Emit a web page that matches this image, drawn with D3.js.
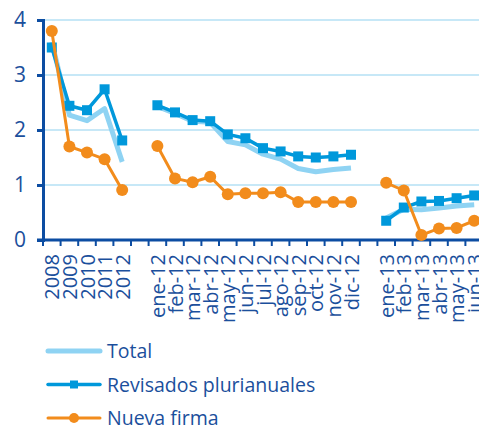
<!DOCTYPE html>
<html lang="es">
<head>
<meta charset="UTF-8">
<title>Chart</title>
<script src="https://d3js.org/d3.v7.min.js"></script>
<style>
  body { margin: 0; background: #fff; }
  svg text { font-family: "Open Sans", sans-serif; fill: #1b4f9c; }
</style>
</head>
<body>
<svg id="chart" width="479" height="427"></svg>
<script>
// categories (empty strings are the gaps between groups)
const categories = ["2008", "2009", "2010", "2011", "2012", "",
  "ene-12", "feb-12", "mar-12", "abr-12", "may-12", "jun-12", "jul-12", "ago-12", "sep-12", "oct-12", "nov-12", "dic-12", "",
  "ene-13", "feb-13", "mar-13", "abr-13", "may-13", "jun-13"];

const total = [3.6, 2.27, 2.17, 2.39, 1.42, null,
  2.43, 2.30, 2.16, 2.14, 1.79, 1.73, 1.56, 1.47, 1.30, 1.24, 1.28, 1.31, null,
  0.40, 0.56, 0.55, 0.58, 0.62, 0.64];

const revisados = [3.5, 2.44, 2.36, 2.74, 1.81, null,
  2.45, 2.32, 2.18, 2.16, 1.92, 1.85, 1.67, 1.61, 1.52, 1.50, 1.52, 1.55, null,
  0.35, 0.59, 0.70, 0.71, 0.76, 0.81];

const nueva = [3.80, 1.70, 1.59, 1.47, 0.91, null,
  1.71, 1.12, 1.05, 1.15, 0.83, 0.85, 0.85, 0.87, 0.69, 0.69, 0.69, 0.69, null,
  1.04, 0.90, 0.09, 0.21, 0.22, 0.35];

const yTicks = [0, 1, 2, 3, 4];

const seriesNames = ["Total", "Revisados plurianuales", "Nueva firma"];

const colors = { total: "#8fd3f3", revisados: "#0098db", nueva: "#f28c1c", axis: "#0c4da2", grid: "#b5e1f5" };

const svg = d3.select("#chart");

const x = d3.scaleBand().domain(d3.range(categories.length)).range([43, 483]).padding(0);
const y = d3.scaleLinear().domain([0, 4]).range([240, 20]);

// grid lines
svg.append("g").selectAll("line").data(yTicks.filter(d => d > 0)).enter().append("line")
  .attr("x1", 45).attr("x2", 479)
  .attr("y1", d => y(d)).attr("y2", d => y(d))
  .attr("stroke", colors.grid).attr("stroke-width", 1.5);

// y axis
const yAxis = svg.append("g").attr("transform", "translate(43,0)")
  .call(d3.axisLeft(y).tickValues(yTicks).tickSize(6).tickPadding(11).tickFormat(d3.format("d")));
yAxis.select(".domain").attr("stroke", colors.axis).attr("stroke-width", 3);
yAxis.selectAll(".tick line").attr("stroke", colors.axis).attr("stroke-width", 3);
yAxis.selectAll(".tick text").attr("font-size", 21).attr("fill", "#1b4f9c");

// x axis
const xAxisG = svg.append("g").attr("transform", "translate(0,240)");
xAxisG.append("line").attr("x1", 37).attr("x2", 479).attr("y1", 0).attr("y2", 0)
  .attr("stroke", colors.axis).attr("stroke-width", 3);
xAxisG.selectAll("line.tk").data(d3.range(categories.length + 1)).enter().append("line")
  .attr("class", "tk")
  .attr("x1", i => i < categories.length ? x(i) : x(categories.length - 1) + x.bandwidth())
  .attr("x2", i => i < categories.length ? x(i) : x(categories.length - 1) + x.bandwidth())
  .attr("y1", 0).attr("y2", 6)
  .attr("stroke", colors.axis).attr("stroke-width", 2);
xAxisG.selectAll("text").data(categories).enter().append("text")
  .attr("transform", (d, i) => `translate(${x(i) + x.bandwidth() / 2 + 7.5},14) rotate(-90)`)
  .attr("text-anchor", "end")
  .attr("font-size", 20)
  .text(d => d);

// lines
function drawSeries(values, color, width, marker) {
  const line = d3.line()
    .defined(d => d != null)
    .x((d, i) => x(i) + x.bandwidth() / 2)
    .y(d => y(d));
  svg.append("path").datum(values)
    .attr("fill", "none").attr("stroke", color).attr("stroke-width", width)
    .attr("stroke-linejoin", "round").attr("d", line);
  const pts = values.map((v, i) => ({ v, i })).filter(p => p.v != null);
  if (marker === "square") {
    svg.append("g").selectAll("rect").data(pts).enter().append("rect")
      .attr("x", p => x(p.i) + x.bandwidth() / 2 - 5)
      .attr("y", p => y(p.v) - 5)
      .attr("width", 10).attr("height", 10).attr("fill", color);
  } else if (marker === "circle") {
    svg.append("g").selectAll("circle").data(pts).enter().append("circle")
      .attr("cx", p => x(p.i) + x.bandwidth() / 2)
      .attr("cy", p => y(p.v))
      .attr("r", 6).attr("fill", color);
  }
}

drawSeries(total, colors.total, 5, null);
drawSeries(revisados, colors.revisados, 3.5, "square");
drawSeries(nueva, colors.nueva, 3, "circle");

// legend
const legend = svg.append("g");
const legendItems = [
  { name: seriesNames[0], color: colors.total, width: 5, marker: null },
  { name: seriesNames[1], color: colors.revisados, width: 3.5, marker: "square" },
  { name: seriesNames[2], color: colors.nueva, width: 3, marker: "circle" }
];
legendItems.forEach((d, i) => {
  const cy = 351 + i * 33.5;
  legend.append("line").attr("x1", 48).attr("x2", 100).attr("y1", cy).attr("y2", cy)
    .attr("stroke", d.color).attr("stroke-width", d.width).attr("stroke-linecap", "round");
  if (d.marker === "square") {
    legend.append("rect").attr("x", 70).attr("y", cy - 4).attr("width", 8).attr("height", 8).attr("fill", d.color);
  } else if (d.marker === "circle") {
    legend.append("circle").attr("cx", 74).attr("cy", cy).attr("r", 5).attr("fill", d.color);
  }
  legend.append("text").attr("x", 107).attr("y", cy + 7).attr("font-size", 19.5).text(d.name);
});
</script>
</body>
</html>
